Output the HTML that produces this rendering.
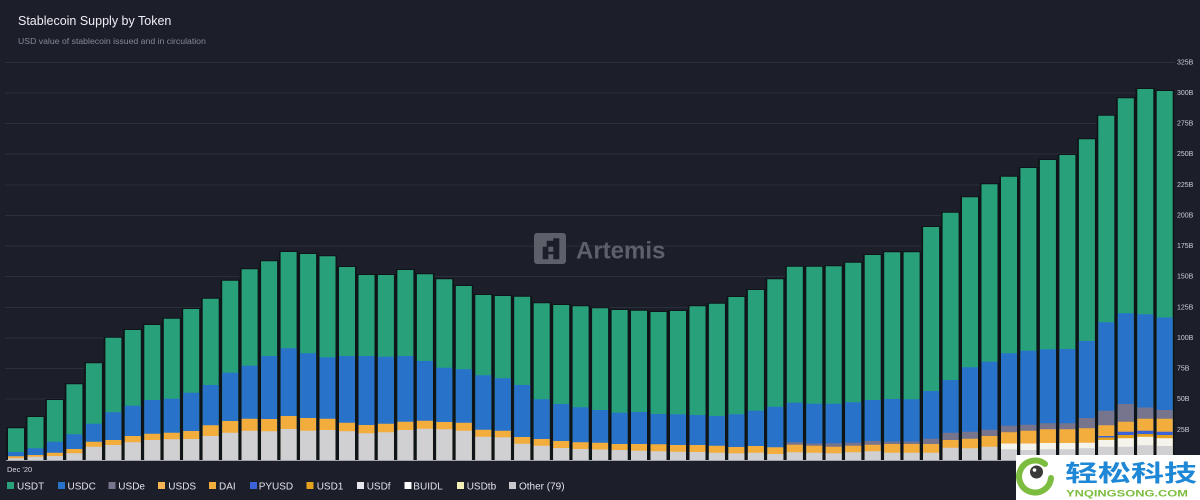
<!DOCTYPE html>
<html>
<head>
<meta charset="utf-8">
<style>
html,body{margin:0;padding:0;background:#1c1e2a;}
body{width:1200px;height:500px;overflow:hidden;}
svg{display:block;}
.yl{font-family:"Liberation Sans",sans-serif;font-size:7px;fill:#cdced6;}
.lg{font-family:"Liberation Sans",sans-serif;font-size:10px;fill:#e2e2e8;}
</style>
</head>
<body>
<svg width="1200" height="500" viewBox="0 0 1200 500" xmlns="http://www.w3.org/2000/svg">
<rect x="0" y="0" width="1200" height="500" fill="#1c1e2a"/>
<text x="18" y="25" font-family="Liberation Sans, sans-serif" font-size="12.5" fill="#eeeef3">Stablecoin Supply by Token</text>
<text x="18" y="44" font-family="Liberation Sans, sans-serif" font-size="8.7" fill="#868896">USD value of stablecoin issued and in circulation</text>

<path stroke="#2b2e3b" stroke-width="1" fill="none" d="M5 62.5H1175M5 93H1175M5 123.5H1175M5 154H1175M5 185H1175M5 215.5H1175M5 246H1175M5 276.5H1175M5 307.5H1175M5 338H1175M5 368.5H1175M5 399H1175M5 430H1175"/>

<g class="yl" dominant-baseline="middle">
<text x="1177" y="62.5">325B</text>
<text x="1177" y="93">300B</text>
<text x="1177" y="123.5">275B</text>
<text x="1177" y="154">250B</text>
<text x="1177" y="185">225B</text>
<text x="1177" y="215.5">200B</text>
<text x="1177" y="246">175B</text>
<text x="1177" y="276.5">150B</text>
<text x="1177" y="307.5">125B</text>
<text x="1177" y="338">100B</text>
<text x="1177" y="368.5">75B</text>
<text x="1177" y="399">50B</text>
<text x="1177" y="430">25B</text>
</g>

<rect x="534" y="233" width="32" height="31" rx="3" fill="#5d5f69"/>
<path fill="#1c1e2a" d="M542.7 246.7h5.6v12.6h-5.6zM546.7 240.7h6.6v6h-6.6zM553.3 238.3h6v21h-6zM548.3 251.7h5v2.6h-5z"/>
<text x="576" y="258.5" font-family="Liberation Sans, sans-serif" font-size="24" font-weight="bold" fill="#5d5f69">Artemis</text>

<!-- dark bar backing -->
<path fill="#0f1418" d="M6.25 427.3h19.5V460h-19.5zM25.75 416h19.5V460h-19.5zM45.15 399h19.5V460h-19.5zM64.65 383.3h19.5V460h-19.5zM84.15 362.3h19.5V460h-19.5zM103.65 336.7h19.5V460h-19.5zM123.05 329h19.5V460h-19.5zM142.55 324h19.5V460h-19.5zM162.05 317.7h19.5V460h-19.5zM181.45 308h19.5V460h-19.5zM200.95 297.7h19.5V460h-19.5zM220.45 279.7h19.5V460h-19.5zM239.85 268.3h19.5V460h-19.5zM259.35 260.3h19.5V460h-19.5zM278.85 251h19.5V460h-19.5zM298.35 253h19.5V460h-19.5zM317.75 255.3h19.5V460h-19.5zM337.25 266h19.5V460h-19.5zM356.75 274h19.5V460h-19.5zM376.15 274h19.5V460h-19.5zM395.65 269h19.5V460h-19.5zM415.15 273.3h19.5V460h-19.5zM434.55 278.3h19.5V460h-19.5zM454.05 285h19.5V460h-19.5zM473.55 294h19.5V460h-19.5zM493.05 295h19.5V460h-19.5zM512.45 295.7h19.5V460h-19.5zM531.95 302.3h19.5V460h-19.5zM551.45 304h19.5V460h-19.5zM570.85 305.3h19.5V460h-19.5zM590.35 307.3h19.5V460h-19.5zM609.85 309h19.5V460h-19.5zM629.25 309.7h19.5V460h-19.5zM648.75 311h19.5V460h-19.5zM668.25 310h19.5V460h-19.5zM687.75 305.3h19.5V460h-19.5zM707.15 302.7h19.5V460h-19.5zM726.65 296h19.5V460h-19.5zM746.15 289h19.5V460h-19.5zM765.55 278.3h19.5V460h-19.5zM785.05 265.7h19.5V460h-19.5zM804.55 265.7h19.5V460h-19.5zM823.95 265.3h19.5V460h-19.5zM843.45 261.7h19.5V460h-19.5zM862.95 254h19.5V460h-19.5zM882.45 251.3h19.5V460h-19.5zM901.85 251.3h19.5V460h-19.5zM921.35 226h19.5V460h-19.5zM940.85 211.7h19.5V460h-19.5zM960.25 196.3h19.5V460h-19.5zM979.75 183.3h19.5V460h-19.5zM999.25 175.7h19.5V460h-19.5zM1018.65 167h19.5V460h-19.5zM1038.15 159h19.5V460h-19.5zM1057.65 154h19.5V460h-19.5zM1077.15 138.3h19.5V460h-19.5zM1096.55 114.7h19.5V460h-19.5zM1116.05 97.3h19.5V460h-19.5zM1135.55 88h19.5V460h-19.5zM1154.95 90h19.5V460h-19.5z"/>

<!-- USDT (green) -->
<path fill="#28a07a" d="M8 428.3h16V460h-16zM27.5 417h16V460h-16zM46.9 400h16V460h-16zM66.4 384.3h16V460h-16zM85.9 363.3h16V460h-16zM105.4 337.7h16V460h-16zM124.8 330h16V460h-16zM144.3 325h16V460h-16zM163.8 318.7h16V460h-16zM183.2 309h16V460h-16zM202.7 298.7h16V460h-16zM222.2 280.7h16V460h-16zM241.6 269.3h16V460h-16zM261.1 261.3h16V460h-16zM280.6 252h16V460h-16zM300.1 254h16V460h-16zM319.5 256.3h16V460h-16zM339 267h16V460h-16zM358.5 275h16V460h-16zM377.9 275h16V460h-16zM397.4 270h16V460h-16zM416.9 274.3h16V460h-16zM436.3 279.3h16V460h-16zM455.8 286h16V460h-16zM475.3 295h16V460h-16zM494.8 296h16V460h-16zM514.2 296.7h16V460h-16zM533.7 303.3h16V460h-16zM553.2 305h16V460h-16zM572.6 306.3h16V460h-16zM592.1 308.3h16V460h-16zM611.6 310h16V460h-16zM631 310.7h16V460h-16zM650.5 312h16V460h-16zM670 311h16V460h-16zM689.5 306.3h16V460h-16zM708.9 303.7h16V460h-16zM728.4 297h16V460h-16zM747.9 290h16V460h-16zM767.3 279.3h16V460h-16zM786.8 266.7h16V460h-16zM806.3 266.7h16V460h-16zM825.7 266.3h16V460h-16zM845.2 262.7h16V460h-16zM864.7 255h16V460h-16zM884.2 252.3h16V460h-16zM903.6 252.3h16V460h-16zM923.1 227h16V460h-16zM942.6 212.7h16V460h-16zM962 197.3h16V460h-16zM981.5 184.3h16V460h-16zM1001 176.7h16V460h-16zM1020.4 168h16V460h-16zM1039.9 160h16V460h-16zM1059.4 155h16V460h-16zM1078.9 139.3h16V460h-16zM1098.3 115.7h16V460h-16zM1117.8 98.3h16V460h-16zM1137.3 89h16V460h-16zM1156.7 91h16V460h-16z"/>

<!-- USDC (blue) -->
<path fill="#2872c9" d="M8 452h16V460h-16zM27.5 448.3h16V460h-16zM46.9 441.7h16V460h-16zM66.4 434.3h16V460h-16zM85.9 423.7h16V460h-16zM105.4 412.3h16V460h-16zM124.8 405.7h16V460h-16zM144.3 400h16V460h-16zM163.8 398.7h16V460h-16zM183.2 392.7h16V460h-16zM202.7 385h16V460h-16zM222.2 372.7h16V460h-16zM241.6 365.7h16V460h-16zM261.1 356h16V460h-16zM280.6 348.3h16V460h-16zM300.1 353.3h16V460h-16zM319.5 357.3h16V460h-16zM339 356h16V460h-16zM358.5 356h16V460h-16zM377.9 356.7h16V460h-16zM397.4 356h16V460h-16zM416.9 361h16V460h-16zM436.3 367.7h16V460h-16zM455.8 369.3h16V460h-16zM475.3 375.3h16V460h-16zM494.8 378.3h16V460h-16zM514.2 385h16V460h-16zM533.7 399.3h16V460h-16zM553.2 404h16V460h-16zM572.6 407.3h16V460h-16zM592.1 410h16V460h-16zM611.6 412.7h16V460h-16zM631 412h16V460h-16zM650.5 414h16V460h-16zM670 414.3h16V460h-16zM689.5 415h16V460h-16zM708.9 416h16V460h-16zM728.4 414.3h16V460h-16zM747.9 410.7h16V460h-16zM767.3 406.7h16V460h-16zM786.8 402.7h16V460h-16zM806.3 403.7h16V460h-16zM825.7 403.7h16V460h-16zM845.2 402.3h16V460h-16zM864.7 400h16V460h-16zM884.2 399h16V460h-16zM903.6 399.3h16V460h-16zM923.1 391h16V460h-16zM942.6 380h16V460h-16zM962 367.3h16V460h-16zM981.5 361.7h16V460h-16zM1001 353.3h16V460h-16zM1020.4 350.7h16V460h-16zM1039.9 349.3h16V460h-16zM1059.4 349h16V460h-16zM1078.9 341h16V460h-16zM1098.3 322.3h16V460h-16zM1117.8 313.3h16V460h-16zM1137.3 314.3h16V460h-16zM1156.7 317.5h16V460h-16z"/>

<!-- USDe -->
<path fill="#77758d" d="M786.8 442.3h16V460h-16zM806.3 443.5h16V460h-16zM825.7 443.3h16V460h-16zM845.2 442.7h16V460h-16zM864.7 441h16V460h-16zM884.2 441.5h16V460h-16zM903.6 441.5h16V460h-16zM923.1 438.7h16V460h-16zM942.6 432.7h16V460h-16zM962 431.7h16V460h-16zM981.5 429.7h16V460h-16zM1001 425.7h16V460h-16zM1020.4 424.7h16V460h-16zM1039.9 423.3h16V460h-16zM1059.4 423.3h16V460h-16zM1078.9 418h16V460h-16zM1098.3 410.7h16V460h-16zM1117.8 404h16V460h-16zM1137.3 407.5h16V460h-16zM1156.7 410h16V460h-16z"/>

<!-- USDS / DAI (orange) -->
<path fill="#f3ad3c" d="M8 456.3h16V460h-16zM27.5 455h16V460h-16zM46.9 452.7h16V460h-16zM66.4 449h16V460h-16zM85.9 441.7h16V460h-16zM105.4 440h16V460h-16zM124.8 436h16V460h-16zM144.3 433.7h16V460h-16zM163.8 432.7h16V460h-16zM183.2 431h16V460h-16zM202.7 425.3h16V460h-16zM222.2 421h16V460h-16zM241.6 418.7h16V460h-16zM261.1 419h16V460h-16zM280.6 416h16V460h-16zM300.1 418h16V460h-16zM319.5 418.7h16V460h-16zM339 422.7h16V460h-16zM358.5 425h16V460h-16zM377.9 423.7h16V460h-16zM397.4 421.7h16V460h-16zM416.9 420.7h16V460h-16zM436.3 422h16V460h-16zM455.8 422.7h16V460h-16zM475.3 429.7h16V460h-16zM494.8 430.7h16V460h-16zM514.2 437h16V460h-16zM533.7 439h16V460h-16zM553.2 441h16V460h-16zM572.6 442.3h16V460h-16zM592.1 442.7h16V460h-16zM611.6 444h16V460h-16zM631 444h16V460h-16zM650.5 444.3h16V460h-16zM670 445h16V460h-16zM689.5 445h16V460h-16zM708.9 445.7h16V460h-16zM728.4 447h16V460h-16zM747.9 446h16V460h-16zM767.3 447.3h16V460h-16zM786.8 444.7h16V460h-16zM806.3 445.7h16V460h-16zM825.7 446.7h16V460h-16zM845.2 445.7h16V460h-16zM864.7 444.7h16V460h-16zM884.2 444h16V460h-16zM903.6 444h16V460h-16zM923.1 444h16V460h-16zM942.6 440h16V460h-16zM962 438.7h16V460h-16zM981.5 436h16V460h-16zM1001 432.3h16V460h-16zM1020.4 430.7h16V460h-16zM1039.9 429.3h16V460h-16zM1059.4 429.3h16V460h-16zM1078.9 428.3h16V460h-16zM1098.3 425.3h16V460h-16zM1117.8 421.7h16V460h-16zM1137.3 418.7h16V460h-16zM1156.7 418.7h16V460h-16z"/>

<!-- PYUSD -->
<path fill="#3b63d8" d="M1098.3 436h16V460h-16zM1117.8 431.7h16V460h-16zM1137.3 430.7h16V460h-16zM1156.7 431.7h16V460h-16z"/>
<!-- USD1 -->
<path fill="#e4a21c" d="M1098.3 437.5h16V460h-16zM1117.8 435h16V460h-16zM1137.3 434h16V460h-16zM1156.7 435h16V460h-16z"/>
<!-- USDf / BUIDL / USDtb (white-cream) -->
<path fill="#f4f3ec" d="M1001 443.5h16V460h-16zM1020.4 443.5h16V460h-16zM1039.9 443h16V460h-16zM1059.4 443h16V460h-16zM1078.9 442.7h16V460h-16zM1098.3 440h16V460h-16zM1117.8 438.3h16V460h-16zM1137.3 436.7h16V460h-16zM1156.7 438.3h16V460h-16z"/>

<!-- Other (grey) -->
<path fill="#d0d0d2" d="M8 458.3h16V460h-16zM27.5 456.7h16V460h-16zM46.9 456h16V460h-16zM66.4 453.3h16V460h-16zM85.9 446.7h16V460h-16zM105.4 445h16V460h-16zM124.8 442.3h16V460h-16zM144.3 440h16V460h-16zM163.8 439.3h16V460h-16zM183.2 439h16V460h-16zM202.7 436h16V460h-16zM222.2 432.7h16V460h-16zM241.6 430.7h16V460h-16zM261.1 431.3h16V460h-16zM280.6 429h16V460h-16zM300.1 430.7h16V460h-16zM319.5 430h16V460h-16zM339 431.3h16V460h-16zM358.5 433.3h16V460h-16zM377.9 432.3h16V460h-16zM397.4 430h16V460h-16zM416.9 428.7h16V460h-16zM436.3 429.3h16V460h-16zM455.8 430.7h16V460h-16zM475.3 436.7h16V460h-16zM494.8 437.3h16V460h-16zM514.2 443.7h16V460h-16zM533.7 445.7h16V460h-16zM553.2 448h16V460h-16zM572.6 449h16V460h-16zM592.1 449.5h16V460h-16zM611.6 450h16V460h-16zM631 450.7h16V460h-16zM650.5 451.3h16V460h-16zM670 451.7h16V460h-16zM689.5 452h16V460h-16zM708.9 452.7h16V460h-16zM728.4 453.3h16V460h-16zM747.9 452.7h16V460h-16zM767.3 454h16V460h-16zM786.8 452.3h16V460h-16zM806.3 452.7h16V460h-16zM825.7 453.3h16V460h-16zM845.2 452.3h16V460h-16zM864.7 451.3h16V460h-16zM884.2 452.7h16V460h-16zM903.6 452.7h16V460h-16zM923.1 452.7h16V460h-16zM942.6 447.7h16V460h-16zM962 448.3h16V460h-16zM981.5 446.7h16V460h-16zM1001 449.3h16V460h-16zM1020.4 450h16V460h-16zM1039.9 449.3h16V460h-16zM1059.4 449.3h16V460h-16zM1078.9 448.3h16V460h-16zM1098.3 446.7h16V460h-16zM1117.8 446.7h16V460h-16zM1137.3 445.3h16V460h-16zM1156.7 446h16V460h-16z"/>

<line x1="6" x2="1175" y1="460.5" y2="460.5" stroke="#a4a6ae" stroke-width="1"/>
<text x="7" y="472" font-family="Liberation Sans, sans-serif" font-size="7.5" fill="#d6d6dc">Dec '20</text>

<rect x="7" y="482" width="7" height="7" fill="#28a07a"/><text class="lg" x="17" y="489.5">USDT</text>
<rect x="58" y="482" width="7" height="7" fill="#2872c9"/><text class="lg" x="67.5" y="489.5">USDC</text>
<rect x="108.5" y="482" width="7" height="7" fill="#77758d"/><text class="lg" x="118.3" y="489.5">USDe</text>
<rect x="158" y="482" width="7" height="7" fill="#f6b452"/><text class="lg" x="168.3" y="489.5">USDS</text>
<rect x="209" y="482" width="7" height="7" fill="#f3ad3c"/><text class="lg" x="219" y="489.5">DAI</text>
<rect x="250" y="482" width="7" height="7" fill="#3b63d8"/><text class="lg" x="258.7" y="489.5">PYUSD</text>
<rect x="306.5" y="482" width="7" height="7" fill="#e4a21c"/><text class="lg" x="316.7" y="489.5">USD1</text>
<rect x="357" y="482" width="7" height="7" fill="#e6e6ec"/><text class="lg" x="366.7" y="489.5">USDf</text>
<rect x="404.5" y="482" width="7" height="7" fill="#ffffff"/><text class="lg" x="413.3" y="489.5">BUIDL</text>
<rect x="457" y="482" width="7" height="7" fill="#f3efb8"/><text class="lg" x="466.7" y="489.5">USDtb</text>
<rect x="509" y="482" width="7" height="7" fill="#c8c8ca"/><text class="lg" x="519" y="489.5">Other (79)</text>

<rect x="1016" y="455" width="184" height="45" fill="#ffffff"/>
<path d="M1045 464 A16 16 0 1 0 1051 478" fill="none" stroke="#7cbd3f" stroke-width="6" stroke-linecap="round"/>
<circle cx="1036.5" cy="472" r="6.5" fill="#3a3a3a"/>
<circle cx="1034.5" cy="470" r="1.8" fill="#ffffff"/>
<text x="1065" y="481" font-family="Liberation Sans, 'Noto Sans CJK SC', sans-serif" font-size="23" font-weight="bold" fill="#1e87d6" textLength="132" lengthAdjust="spacingAndGlyphs">轻松科技</text>
<text x="1066" y="496.5" font-family="Liberation Sans, sans-serif" font-size="9.5" font-weight="bold" fill="#7cbd3f" textLength="122" lengthAdjust="spacingAndGlyphs">YNQINGSONG.COM</text>
</svg>
</body>
</html>
